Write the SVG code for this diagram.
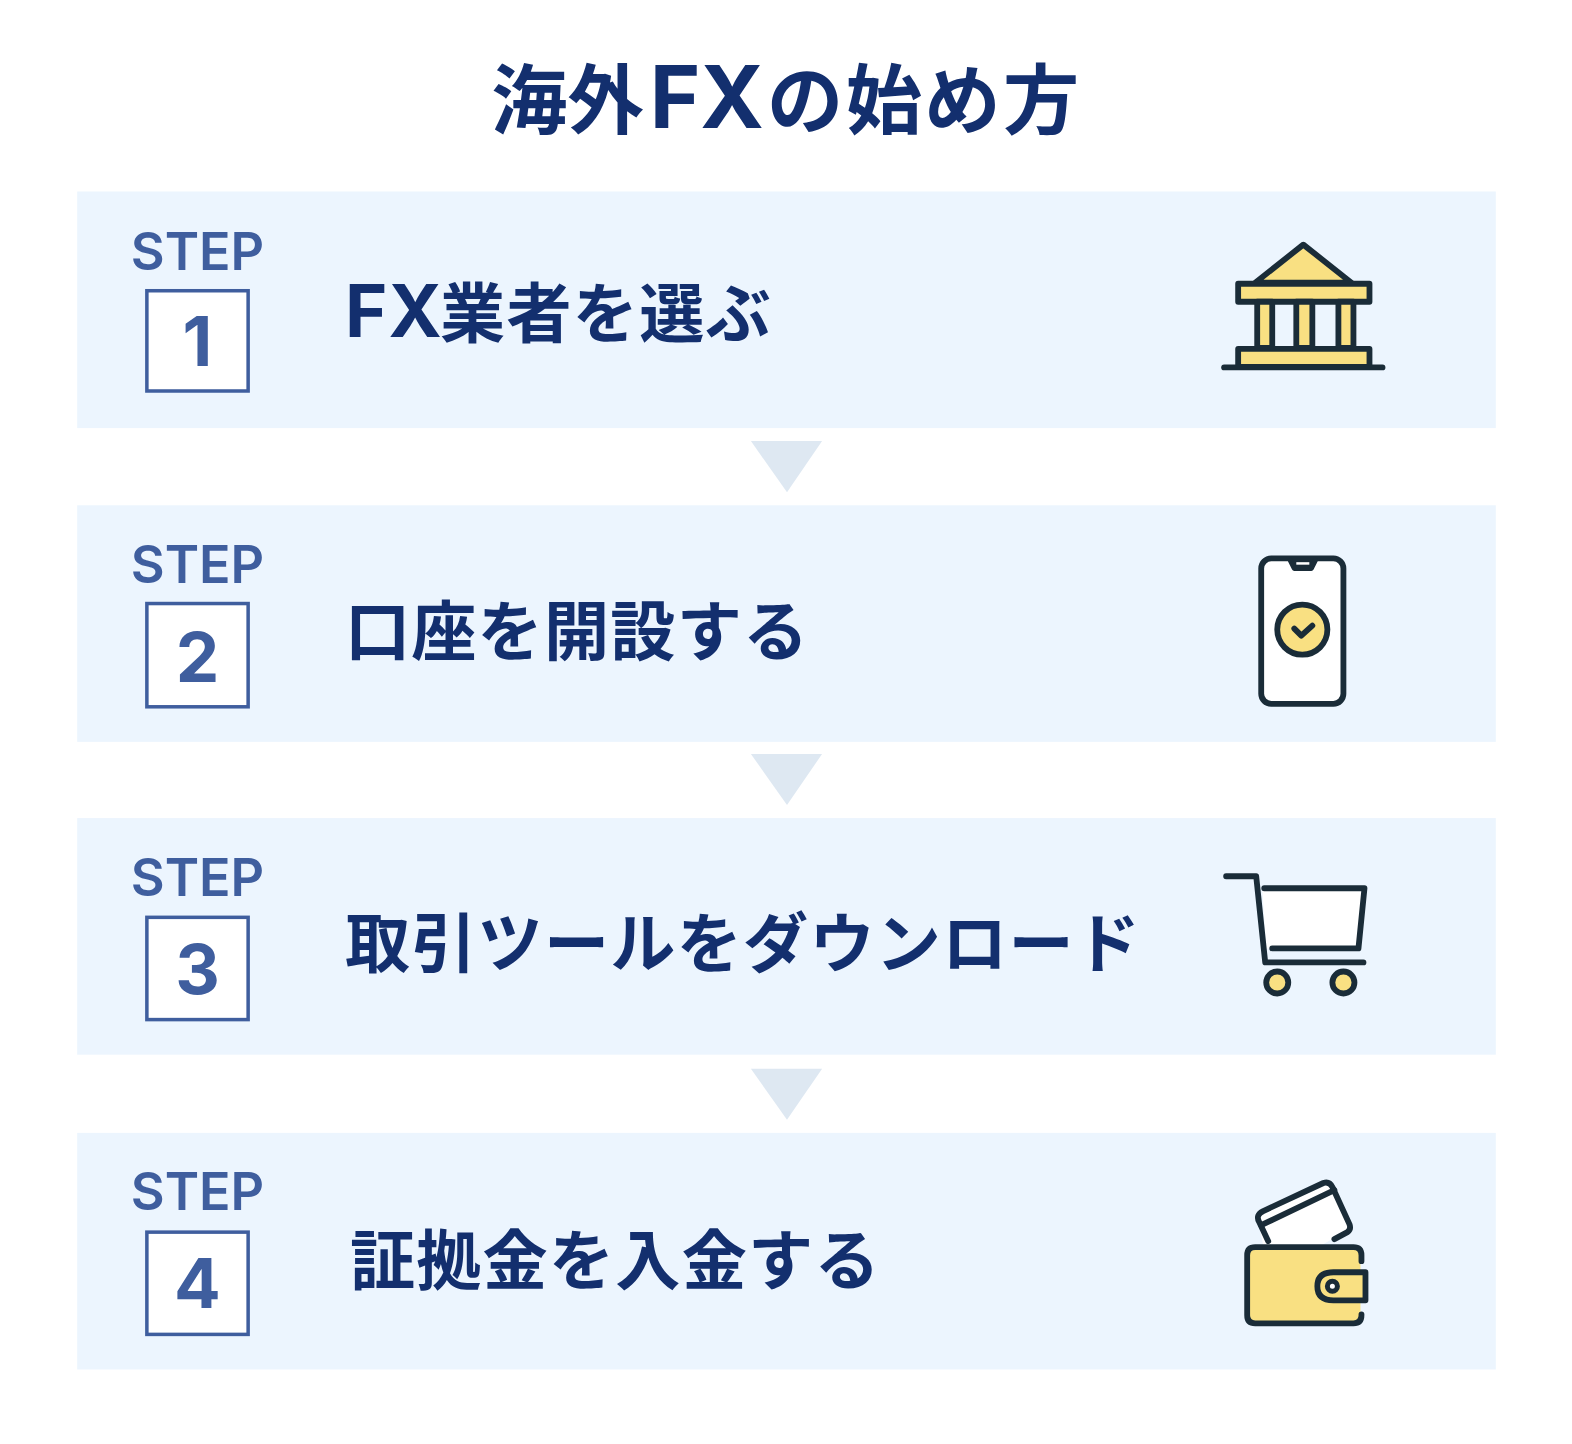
<svg xmlns="http://www.w3.org/2000/svg" width="1572" height="1444" viewBox="0 0 1572 1444">
<style>
.band{fill:#ecf5fe}
.arrow{fill:#dee8f2}
.title{font:700 76px "Noto Sans CJK JP","Noto Sans CJK SC",sans-serif;fill:#132f6e}
.lat{font-family:Inter,"Liberation Sans",sans-serif}
.label{font:700 65px "Noto Sans CJK JP","Noto Sans CJK SC",sans-serif;fill:#132f6e;letter-spacing:1.2px}
.step{font:600 52px Inter,"Liberation Sans",sans-serif;fill:#3f5e9e;text-anchor:middle}
.num{font:700 69px Inter,"Liberation Sans",sans-serif;fill:#3f5e9e;text-anchor:middle}
.box{fill:#fff;stroke:#3f5e9e;stroke-width:3.5}
.ic{stroke:#1a2c38;stroke-width:5.8;stroke-linejoin:round;stroke-linecap:round;fill:none}
.y{fill:#f9e082}
.w{fill:#fff}
</style>
<rect width="1572" height="1444" fill="#fff"/>
<g transform="scale(1.00255)">
<text class="title" y="128"><tspan x="490">海外</tspan><tspan class="lat" x="648" font-size="86">FX</tspan><tspan x="765" letter-spacing="2.500">の始め方</tspan></text>
<g id="connectors">
<polygon class="arrow" points="749,440 820,440 785,491"/>
<polygon class="arrow" points="749,752 820,752 785,803"/>
<polygon class="arrow" points="749,1066 820,1066 785,1117"/>
</g>
<g id="step1">
<rect class="band" x="77" y="191" width="1415" height="236"/>
<text class="step" x="197" y="269">STEP</text>
<rect class="box" x="146.500" y="290" width="101" height="100"/>
<text class="num" x="197" y="365">1</text>
<text class="label" y="336"><tspan class="lat" x="344" font-size="72">FX</tspan><tspan x="439">業者を選ぶ</tspan></text>
<g class="ic">
<path class="y" d="M1252 282L1300 244L1348 282Z"/>
<rect class="y" x="1235" y="283" width="131" height="18"/>
<rect class="y" x="1254" y="301" width="15" height="46"/>
<rect class="y" x="1293" y="301" width="16" height="46"/>
<rect class="y" x="1335" y="301" width="15" height="46"/>
<rect class="y" x="1235" y="348" width="131" height="18"/>
<path d="M1221 366.500H1379"/>
</g>
</g>
<g id="step2">
<rect class="band" x="77" y="504" width="1415" height="236"/>
<text class="step" x="197" y="582">STEP</text>
<rect class="box" x="146.500" y="602" width="101" height="103"/>
<text class="num" x="197" y="680">2</text>
<text class="label" x="344" y="653">口座を開設する</text>
<g class="ic">
<rect class="w" x="1258" y="557" width="82" height="145" rx="10"/>
<path d="M1287 559L1291 567H1308L1312 559" fill="#1a2c38" stroke-width="5"/>
<path d="M1293 562H1306" stroke="#fff" stroke-width="2.500" stroke-linecap="butt"/>
<circle class="y" cx="1299" cy="628" r="25"/>
<path d="M1291 627L1298 634L1309 624"/>
</g>
</g>
<g id="step3">
<rect class="band" x="77" y="816" width="1415" height="236"/>
<text class="step" x="197" y="894">STEP</text>
<rect class="box" x="146.500" y="915" width="101" height="102"/>
<text class="num" x="197" y="991">3</text>
<text class="label" x="344" y="965" letter-spacing=".85">取引ツールをダウンロード</text>
<g class="ic" transform="translate(0 -2)">
<path class="w" stroke="none" d="M1259 888H1361L1355 948H1263Z"/>
<path d="M1223 876H1253L1262 962H1360"/>
<path d="M1261 888H1361L1355 948H1269"/>
<circle class="y" cx="1274" cy="982" r="11"/>
<circle class="y" cx="1340" cy="982" r="11"/>
</g>
</g>
<g id="step4">
<rect class="band" x="77" y="1130" width="1415" height="236"/>
<text class="step" x="197" y="1207">STEP</text>
<rect class="box" x="146.500" y="1229" width="101" height="102"/>
<text class="num" x="197" y="1305">4</text>
<text class="label" x="349" y="1281">証拠金を入金する</text>
<g class="ic">
<path class="w" stroke="none" d="M1260 1242L1254 1213L1324 1179L1346 1226L1318 1242Z"/>
<path d="M1265 1238L1256 1219Q1252 1212 1260 1208L1320 1180Q1326 1178 1329 1184L1346 1221Q1348 1226 1344 1229L1331 1236"/>
<path d="M1258 1222L1331 1187"/>
<path class="y" stroke="none" d="M1254 1244H1350Q1357 1244 1357 1251V1313Q1357 1320 1350 1320H1254Q1244 1320 1244 1312V1252Q1244 1244 1254 1244Z"/>
<path d="M1358 1258V1252Q1358 1244 1350 1244H1252Q1244 1244 1244 1252V1312Q1244 1320 1252 1320H1350Q1358 1320 1358 1312V1311"/>
<path class="y" d="M1362 1269H1330Q1314 1269 1314 1283Q1314 1297 1330 1297H1362Z"/>
<circle class="w" cx="1329" cy="1283" r="5" stroke-width="5"/>
</g>
</g>
</g>
</svg>
